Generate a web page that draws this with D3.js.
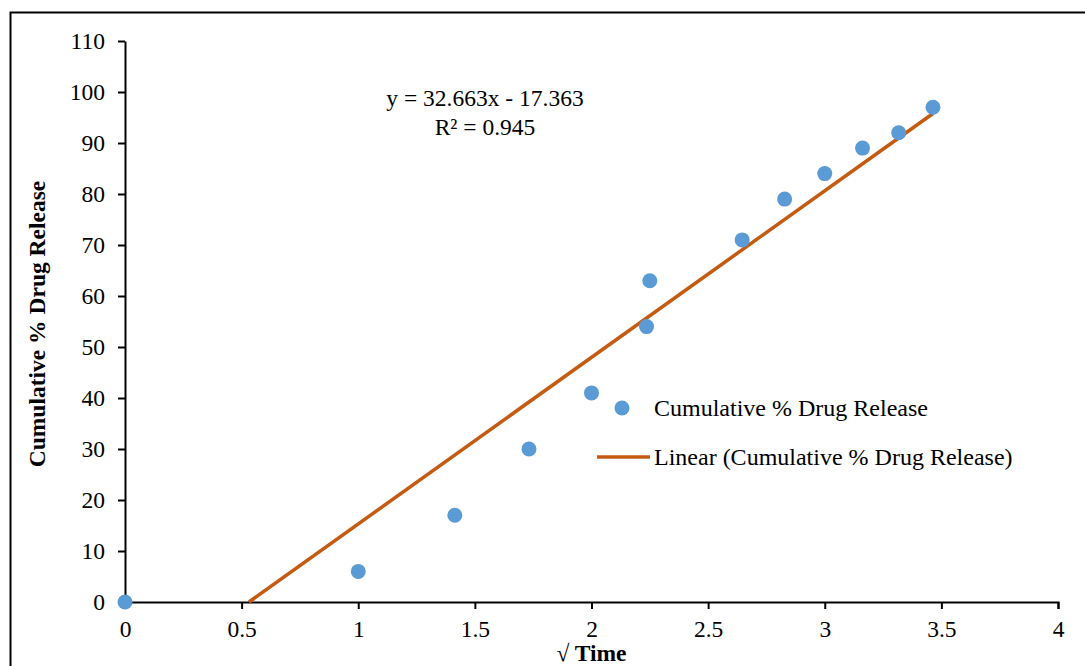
<!DOCTYPE html>
<html>
<head>
<meta charset="utf-8">
<script src="https://cdn.jsdelivr.net/npm/d3@7"></script>
<style>
  body { margin: 0; background: #fff; }
  svg { display: block; font-family: "Liberation Serif", "Times New Roman", serif; }
</style>
</head>
<body>
<div id="chart"></div>
<script>
// data (x = sqrt of time)
var sqrtTime = [0, 1, 1.414, 1.732, 2, 2.236, 2.25, 2.646, 2.828, 3, 3.162, 3.317, 3.464];
var release = [0, 6, 17, 30, 41, 54, 63, 71, 79, 84, 89, 92, 97];
var xTicks = [0, 0.5, 1, 1.5, 2, 2.5, 3, 3.5, 4];
var yTicks = [0, 10, 20, 30, 40, 50, 60, 70, 80, 90, 100, 110];
var slope = 32.663, intercept = -17.363;

var width = 1085, height = 666;
var margin = {top: 41, right: 27, bottom: 64, left: 125};
var fs = 23.5;

var svg = d3.select("#chart").append("svg")
  .attr("width", width)
  .attr("height", height);

// outer frame
svg.append("rect")
  .attr("x", 10.5).attr("y", 12.5)
  .attr("width", 1100).attr("height", 700)
  .attr("fill", "none").attr("stroke", "#000").attr("stroke-width", 2);

var x = d3.scaleLinear().domain([0, 4]).range([margin.left, width - margin.right]);
var y = d3.scaleLinear().domain([0, 110]).range([height - margin.bottom, margin.top]);

var xAxis = svg.append("g")
  .attr("transform", "translate(0," + y(0) + ")")
  .call(d3.axisBottom(x).tickValues(xTicks).tickSize(7).tickSizeOuter(7).tickFormat(d3.format("")));
xAxis.selectAll("text").attr("y", 18).attr("dy", "0.71em");

var yAxis = svg.append("g")
  .attr("transform", "translate(" + x(0) + ",0)")
  .call(d3.axisLeft(y).tickValues(yTicks).tickSize(7).tickSizeOuter(0));
yAxis.selectAll("text").attr("x", -20);

svg.selectAll(".domain").attr("stroke", "#000").attr("stroke-width", 2);
svg.selectAll(".tick line").attr("stroke", "#000").attr("stroke-width", 2);
svg.selectAll("g").attr("font-family", null).attr("font-size", null);
svg.selectAll(".tick text").attr("font-size", fs).attr("fill", "#000");

// trendline clipped at y=0
var x0 = -intercept / slope, x1 = d3.max(sqrtTime);
svg.append("line")
  .attr("x1", x(x0)).attr("y1", y(slope * x0 + intercept))
  .attr("x2", x(x1)).attr("y2", y(slope * x1 + intercept))
  .attr("stroke", "#c55a11").attr("stroke-width", 3.5);

svg.selectAll(".pt").data(sqrtTime)
  .enter().append("circle")
  .attr("class", "pt")
  .attr("cx", function(d) { return x(d); })
  .attr("cy", function(d, i) { return y(release[i]); })
  .attr("r", 7.5)
  .attr("fill", "#5b9bd5");

// equation
svg.append("text").attr("x", 485).attr("y", 106).attr("text-anchor", "middle")
  .attr("font-size", fs).text("y = 32.663x - 17.363");
svg.append("text").attr("x", 485).attr("y", 135).attr("text-anchor", "middle")
  .attr("font-size", fs).text("R² = 0.945");

// legend
svg.append("circle").attr("cx", 622).attr("cy", 408).attr("r", 7.5).attr("fill", "#5b9bd5");
svg.append("text").attr("x", 654).attr("y", 416).attr("font-size", 24).text("Cumulative % Drug Release");
svg.append("line").attr("x1", 597).attr("x2", 650).attr("y1", 457).attr("y2", 457)
  .attr("stroke", "#c55a11").attr("stroke-width", 3.5);
svg.append("text").attr("x", 654).attr("y", 465).attr("font-size", 24).text("Linear (Cumulative % Drug Release)");

// axis titles
svg.append("text").attr("x", x(2)).attr("y", 661).attr("text-anchor", "middle")
  .attr("font-size", fs).attr("font-weight", "bold").text("√ Time");
svg.append("text")
  .attr("transform", "translate(45,324) rotate(-90)")
  .attr("text-anchor", "middle")
  .attr("font-size", fs).attr("font-weight", "bold").text("Cumulative % Drug Release");
</script>
</body>
</html>
